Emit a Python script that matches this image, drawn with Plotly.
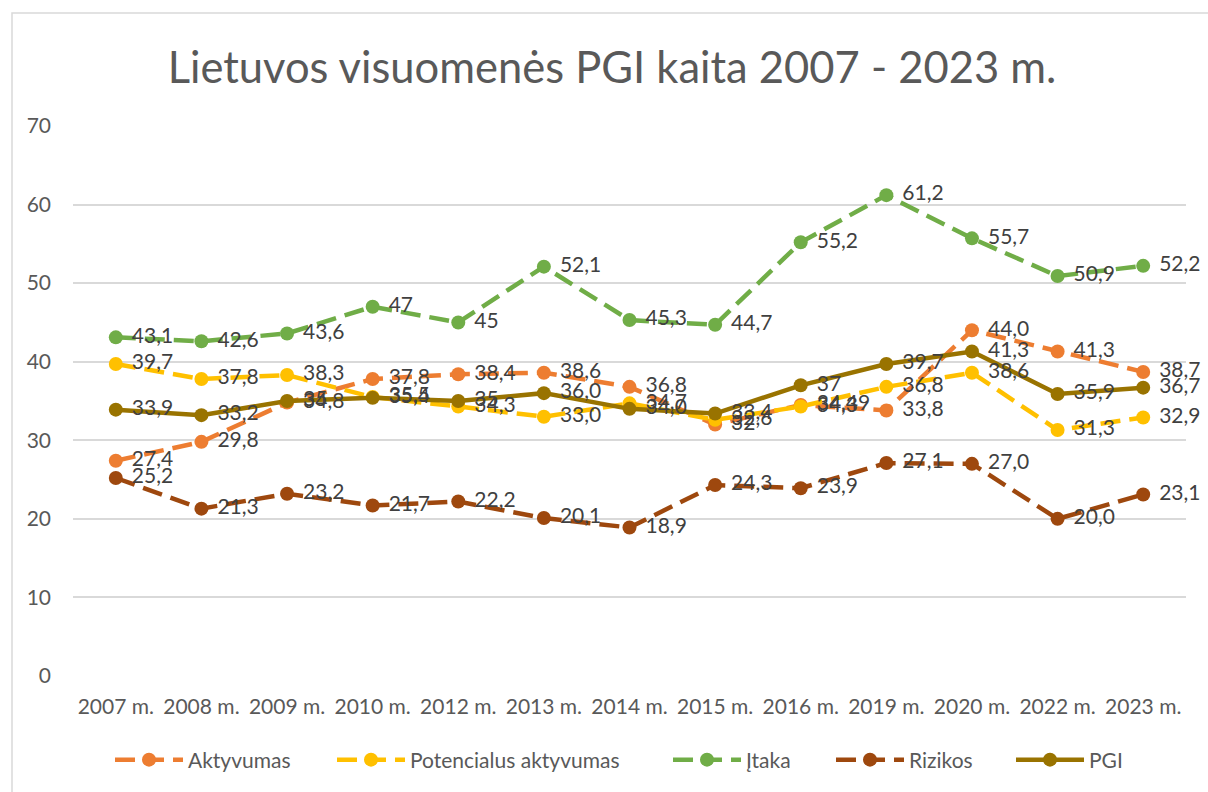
import plotly.graph_objects as go

categories = ["2007 m.", "2008 m.", "2009 m.", "2010 m.", "2012 m.", "2013 m.", "2014 m.",
              "2015 m.", "2016 m.", "2019 m.", "2020 m.", "2022 m.", "2023 m."]

aktyvumas = [27.4, 29.8, 34.8, 37.8, 38.4, 38.6, 36.8, 32, 34.49, 33.8, 44.0, 41.3, 38.7]
potencialus = [39.7, 37.8, 38.3, 35.5, 34.3, 33.0, 34.7, 32.6, 34.3, 36.8, 38.6, 31.3, 32.9]
itaka = [43.1, 42.6, 43.6, 47, 45, 52.1, 45.3, 44.7, 55.2, 61.2, 55.7, 50.9, 52.2]
rizikos = [25.2, 21.3, 23.2, 21.7, 22.2, 20.1, 18.9, 24.3, 23.9, 27.1, 27.0, 20.0, 23.1]
pgi = [33.9, 33.2, 35, 35.4, 35, 36.0, 34.0, 33.4, 37, 39.7, 41.3, 35.9, 36.7]

# label text as shown in the chart (Lithuanian decimal comma)
aktyvumas_lbl = ["27,4", "29,8", "34,8", "37,8", "38,4", "38,6", "36,8", "32", "34,49", "33,8", "44,0", "41,3", "38,7"]
potencialus_lbl = ["39,7", "37,8", "38,3", "35,5", "34,3", "33,0", "34,7", "32,6", "34,3", "36,8", "38,6", "31,3", "32,9"]
itaka_lbl = ["43,1", "42,6", "43,6", "47", "45", "52,1", "45,3", "44,7", "55,2", "61,2", "55,7", "50,9", "52,2"]
rizikos_lbl = ["25,2", "21,3", "23,2", "21,7", "22,2", "20,1", "18,9", "24,3", "23,9", "27,1", "27,0", "20,0", "23,1"]
pgi_lbl = ["33,9", "33,2", "35", "35,4", "35", "36,0", "34,0", "33,4", "37", "39,7", "41,3", "35,9", "36,7"]

DASH = "20px,9px"
series = [
    ("Aktyvumas", aktyvumas, aktyvumas_lbl, "#ED7D31", DASH),
    ("Potencialus aktyvumas", potencialus, potencialus_lbl, "#FFC000", DASH),
    ("Įtaka", itaka, itaka_lbl, "#70AD47", DASH),
    ("Rizikos", rizikos, rizikos_lbl, "#9E480E", DASH),
    ("PGI", pgi, pgi_lbl, "#997300", "solid"),
]

FONT = "Lato"
FS = 21
L, R, T, B = 73, 22, 126, 116
PW = 1208 - L - R
PH = 792 - T - B

# legend entry left edges (px) as in the reference
legend_px = [110, 332, 668, 831, 1011]
legend_ids = ["legend", "legend2", "legend3", "legend4", "legend5"]

fig = go.Figure()

for (name, vals, lbl, color, dash), lid in zip(series, legend_ids):
    fig.add_trace(go.Scatter(
        x=categories, y=vals, name=name, mode="lines+markers",
        line=dict(color=color, width=4.5, dash=dash),
        marker=dict(color=color, size=14),
        hoverinfo="skip", legend=lid, cliponaxis=False,
    ))

for name, vals, lbl, color, dash in series:
    fig.add_trace(go.Scatter(
        x=categories, y=vals, mode="markers+text", text=lbl,
        textposition="middle right",
        textfont=dict(family=FONT, size=FS, color="#404040"),
        marker=dict(size=24, opacity=0),
        showlegend=False, hoverinfo="skip", cliponaxis=False,
    ))

legend_layout = {}
for lid, px in zip(legend_ids, legend_px):
    legend_layout[lid] = dict(
        orientation="h", x=(px - L) / PW, xanchor="left",
        y=(T + PH - 760) / PH, yanchor="middle",
        font=dict(family=FONT, size=FS, color="#595959"),
        itemwidth=68, bgcolor="rgba(0,0,0,0)", borderwidth=0,
    )

fig.update_layout(
    width=1208, height=792,
    margin=dict(l=L, r=R, t=T, b=B),
    paper_bgcolor="white", plot_bgcolor="white",
    font=dict(family=FONT, color="#595959"),
    title=dict(text="Lietuvos visuomenės PGI kaita 2007 - 2023 m.",
               x=612 / 1208, xanchor="center", y=0.915, yanchor="middle",
               font=dict(family=FONT, size=43.5, color="#595959")),
    showlegend=True,
    xaxis=dict(type="category", showgrid=False, zeroline=False, showline=False,
               ticks="", tickfont=dict(family=FONT, size=FS, color="#595959"),
               ticklabelstandoff=16, range=[-0.5, 12.5]),
    yaxis=dict(range=[0, 70], dtick=10, showgrid=True, gridcolor="#D9D9D9", gridwidth=1.5,
               zeroline=False, showline=False, ticks="",
               tickfont=dict(family=FONT, size=FS, color="#595959"),
               ticklabelstandoff=21),
    shapes=[dict(type="rect", xref="paper", yref="paper",
                 x0=(12 - L) / PW, x1=1.03, y0=-0.25, y1=(T + PH - 13) / PH,
                 line=dict(color="#D9D9D9", width=1.5), fillcolor="rgba(0,0,0,0)",
                 layer="below")],
    **legend_layout,
)

fig.write_html("out.html")
